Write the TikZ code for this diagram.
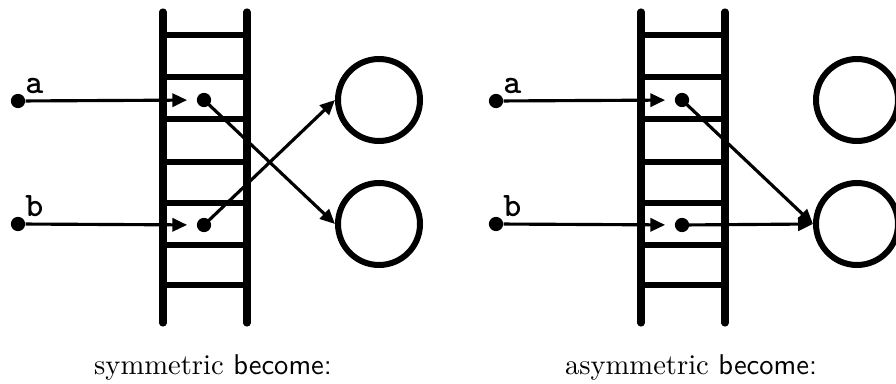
\documentclass[tikz,border=0pt]{standalone}
\usetikzlibrary{arrows.meta,positioning}

\tikzset{
  rail/.style={line width=2.5pt, line cap=round},
  rung/.style={line width=2.2pt},
  dot/.style={circle, fill, inner sep=0pt, minimum size=5pt},
  bucket/.style={circle, draw, line width=2.1pt, inner sep=0pt, minimum size=28.7pt},
  feed/.style={line width=1.1pt, -{Triangle[length=5.2pt,width=4.6pt]}},
  tag/.style={font=\ttfamily\bfseries\large, inner sep=0.5pt}
}

\begin{document}
\begin{tikzpicture}[x=0.35pt,y=-0.35pt]
\useasboundingbox (0,0) rectangle (896,383);
% two panels: ladder, inputs, buckets
\foreach \p/\dx/\kind in {L/0/symmetric,R/478/asymmetric} {
  \begin{scope}[xshift=\dx*0.35pt]
    \foreach \y in {35,77,119,162,203,245,285} {
      \draw[rung] (163,\y) -- (247,\y);
    }
    \draw[rail] (163,12) -- (163,323);
    \draw[rail] (247,12) -- (247,323);
    \node[dot, label={[tag]above right:a}] (sa\p) at (18,101) {};
    \node[dot, label={[tag]above right:b}] (sb\p) at (18,224) {};
    \node[dot] (ia\p) at (204,100) {};
    \node[dot] (ib\p) at (204,225) {};
    \node[bucket] (up\p) at (379,100) {};
    \node[bucket] (lo\p) at (379,224) {};
    \draw[feed, shorten >=3.2pt] (sa\p) -- (ia\p);
    \draw[feed, shorten >=3.2pt] (sb\p) -- (ib\p);
    \node (cap\p) at (213,368) {\kind\ \textsf{become:}};
  \end{scope}
}
% symmetric: crossed
\draw[feed] (iaL.center) -- (loL.west);
\draw[feed] (ibL.center) -- (upL.west);
% asymmetric: both to lower
\draw[feed] (iaR.center) -- (loR.west);
\draw[feed] (ibR.center) -- (loR.west);
\end{tikzpicture}
\end{document}
